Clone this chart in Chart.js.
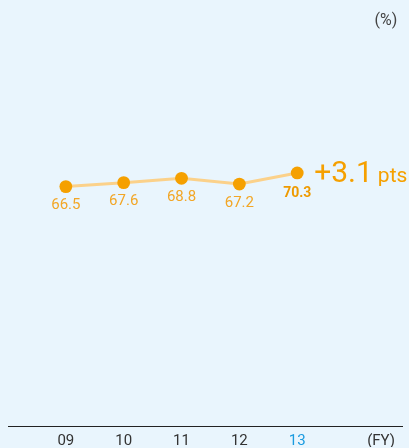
<!DOCTYPE html>
<html><head><meta charset="utf-8">
<script src="https://cdn.jsdelivr.net/npm/chart.js@4"></script>
<style>
html,body{margin:0;padding:0;background:#E9F5FD;}
#wrap{width:409px;height:448px;position:relative;}
</style></head>
<body><div id="wrap"><canvas id="c" width="409" height="448"></canvas></div>
<script>
const categories = ['09', '10', '11', '12', '13'];
const values = [66.5, 67.6, 68.8, 67.2, 70.3];
const unitLabel = '(%)';
const axisEndLabel = '(FY)';
const changeValue = '+3.1';
const changeUnit = 'pts';

const ORANGE = '#F5A000';
const LABEL_ORANGE = '#F2A626';
const LINE = '#FBD18A';
const GREY = '#333333';
const BLUE = '#1A9BE0';
const FONT = 'Roboto, "Liberation Sans", sans-serif';

const points = values.map((v, i) => ({x: i, y: v}));
const tickValues = categories.map((c, i) => i).concat([5.45]);
const tickLabels = categories.concat([axisEndLabel]);

const labelsPlugin = {
  id: 'labels',
  afterDatasetsDraw(chart) {
    const ctx = chart.ctx;
    const meta = chart.getDatasetMeta(0);
    ctx.save();
    ctx.textAlign = 'center';
    ctx.textBaseline = 'middle';
    meta.data.forEach((pt, i) => {
      const last = i === values.length - 1;
      ctx.fillStyle = last ? '#EE9A00' : LABEL_ORANGE;
      ctx.font = (last ? 'bold 14px ' : '15px ') + FONT;
      ctx.fillText(values[i].toFixed(1), pt.x, pt.y + (last ? 21 : 19));
    });
    const lp = meta.data[meta.data.length - 1];
    ctx.textAlign = 'left';
    ctx.textBaseline = 'alphabetic';
    ctx.fillStyle = ORANGE;
    ctx.font = '30px ' + FONT;
    const x0 = lp.x + 17;
    ctx.fillText(changeValue, x0, lp.y + 9);
    const w = ctx.measureText(changeValue).width;
    ctx.font = '21px ' + FONT;
    ctx.fillText(changeUnit, x0 + w + 5, lp.y + 9);
    ctx.fillStyle = '#444';
    ctx.font = '16px ' + FONT;
    ctx.textAlign = 'center';
    ctx.textBaseline = 'middle';
    ctx.fillText(unitLabel, 386, 21);
    ctx.restore();
  }
};

new Chart(document.getElementById('c'), {
  type: 'scatter',
  data: {
    datasets: [{
      data: points,
      showLine: true,
      borderColor: LINE,
      borderWidth: 3,
      pointBackgroundColor: ORANGE,
      pointBorderColor: ORANGE,
      pointRadius: 6.4,
      pointBorderWidth: 0,
      tension: 0
    }]
  },
  options: {
    responsive: false,
    animation: false,
    events: [],
    layout: {padding: {top: 66, bottom: 1, left: 8, right: 3}},
    plugins: {legend: {display: false}, tooltip: {enabled: false}},
    scales: {
      x: {
        type: 'linear',
        min: -1,
        max: 5.822,
        grid: {display: false, drawTicks: false},
        border: {display: true, color: '#222', width: 1},
        afterBuildTicks(axis) { axis.ticks = tickValues.map(v => ({value: v})); },
        afterFit(axis) { axis.height = 21; },
        ticks: {
          autoSkip: false,
          maxRotation: 0,
          padding: 6,
          font: {size: 15, family: FONT},
          color: (c) => c.index === 4 ? BLUE : GREY,
          callback: (v, i) => tickLabels[i]
        }
      },
      y: {
        display: false,
        min: 0,
        max: 100
      }
    }
  },
  plugins: [labelsPlugin]
});
</script></body></html>
